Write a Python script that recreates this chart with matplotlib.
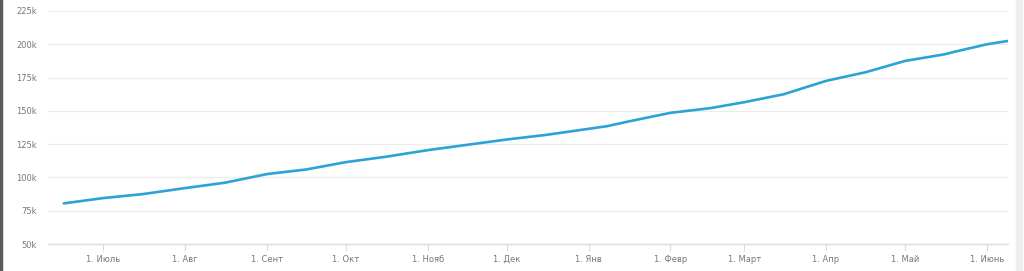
import matplotlib
matplotlib.use('Agg')
import matplotlib.pyplot as plt
import pandas as pd

# values, in thousands
dates = ['2017-06-16', '2017-07-01', '2017-07-16', '2017-08-01', '2017-08-16',
         '2017-09-01', '2017-09-16', '2017-10-01', '2017-10-16', '2017-11-01',
         '2017-11-16', '2017-12-01', '2017-12-16', '2018-01-01', '2018-01-08',
         '2018-01-16', '2018-02-01', '2018-02-16', '2018-03-01', '2018-03-16',
         '2018-04-01', '2018-04-16', '2018-05-01', '2018-05-16', '2018-05-20',
         '2018-06-01', '2018-06-09']
values = [80.5, 84.5, 87.5, 92.0, 96.0,
          102.5, 106.0, 111.5, 115.5, 120.5,
          124.5, 128.5, 132.0, 136.5, 138.5,
          142.0, 148.5, 152.0, 156.5, 162.5,
          172.5, 179.0, 187.5, 192.5, 194.5,
          200.0, 202.5]

y_ticks = [50, 75, 100, 125, 150, 175, 200, 225]
month_labels = ['1. Июль', '1. Авг', '1. Сент', '1. Окт', '1. Нояб', '1. Дек',
                '1. Янв', '1. Февр', '1. Март', '1. Апр', '1. Май', '1. Июнь']
month_ticks = pd.date_range('2017-07-01', '2018-06-01', freq='MS')

x = pd.to_datetime(dates)

fig = plt.figure(figsize=(10.24, 2.71), dpi=100)
ax = fig.add_axes([48/1024, 27/271, 960/1024, 233/271])

ax.plot(x, values, color='#2ba3d4', lw=1.9, solid_capstyle='round')

ax.set_ylim(50, 225)
ax.set_xlim(pd.Timestamp('2017-06-10'), pd.Timestamp('2018-06-09'))
ax.set_yticks(y_ticks)
ax.set_yticklabels([str(v) + 'k' for v in y_ticks])
ax.set_xticks(month_ticks)
ax.set_xticklabels(month_labels)

ax.grid(axis='y', color='#ececec', lw=0.9)
ax.set_axisbelow(True)
for s in ['top', 'right', 'left']:
    ax.spines[s].set_visible(False)
ax.spines['bottom'].set_color('#d5dde8')
ax.spines['bottom'].set_linewidth(1)

ax.tick_params(axis='y', length=0, labelsize=6, labelcolor='#777777', pad=8)
ax.tick_params(axis='x', length=5, width=0.8, color='#d5dde8',
               labelsize=6, labelcolor='#777777', pad=3)

# thin dark edge on the left, light strip on the right
fig.patches.append(plt.Rectangle((0, 0), 2/1024, 1, transform=fig.transFigure,
                                 color='#5a5a5a', zorder=10))
fig.patches.append(plt.Rectangle((1016/1024, 0), 6/1024, 1, transform=fig.transFigure,
                                 color='#eeeeee', zorder=10))

fig.savefig('out.png', dpi=100)
